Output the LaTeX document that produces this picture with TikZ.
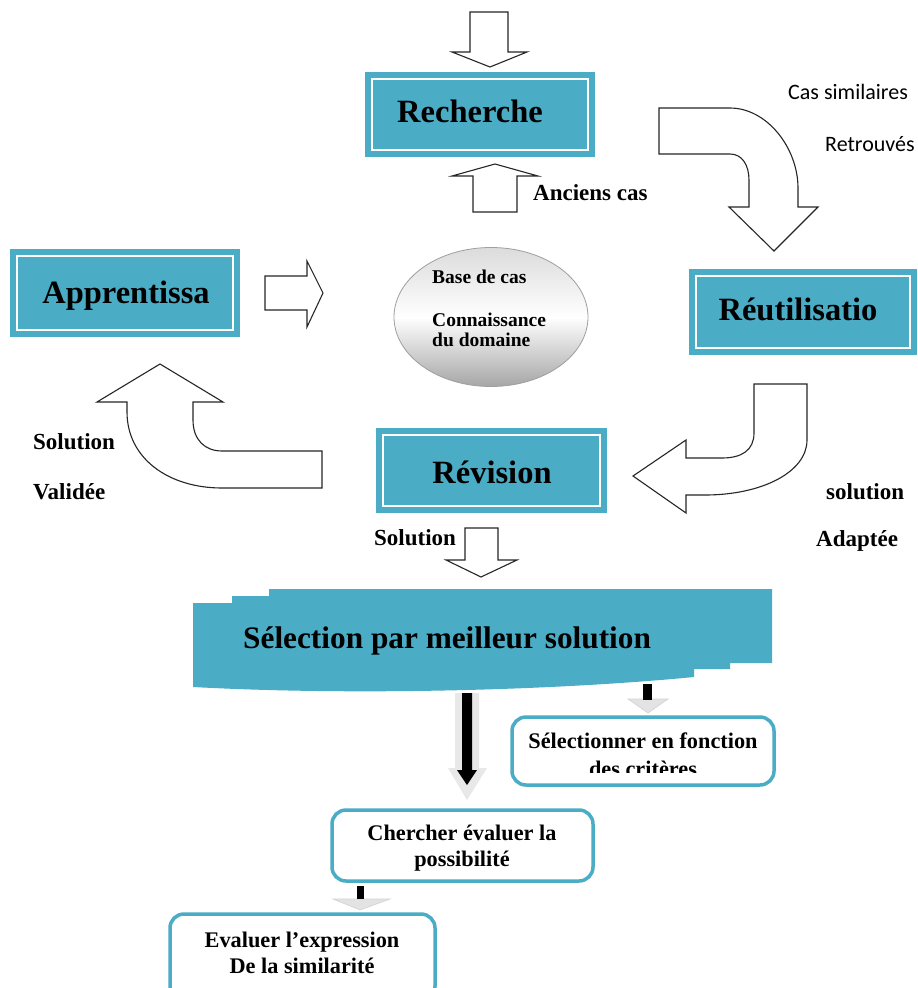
\documentclass[tikz,border=0pt]{standalone}
\usepackage{fontspec}
\setmainfont{Liberation Serif}
\newfontfamily\sansnote{Carlito}
\usetikzlibrary{shapes.geometric}
\definecolor{boxteal}{HTML}{4BACC6}
\tikzset{
  blockarrow/.style={draw=black!85, line width=1.1pt, fill=white, line join=miter},
  stagebox/.style={fill=boxteal, draw=none, inner sep=0pt, outer sep=0pt},
  stageframe/.style={draw=white, line width=2.7pt},
  stagelabel/.style={anchor=base, inner sep=0pt, font=\bfseries\fontsize{32.5}{38}\selectfont},
  flowlabel/.style={anchor=base west, inner sep=0pt, font=\bfseries\fontsize{23}{27}\selectfont},
  notelabel/.style={anchor=base west, inner sep=0pt, font=\sansnote\fontsize{22}{26}\selectfont},
  baselabel/.style={anchor=base west, inner sep=0pt, font=\bfseries\fontsize{19.5}{22}\selectfont},
  stepbox/.style={draw=boxteal, line width=3.5pt, rounded corners=14pt, fill=white, inner sep=0pt},
  steptext/.style={anchor=base, inner sep=0pt, font=\bfseries\fontsize{22.3}{26}\selectfont},
  glowhead/.style={fill=gray!22, draw=gray!35, line width=0.6pt},
}
\begin{document}
\begin{tikzpicture}[x=1pt, y=-1pt]
\clip (0,0) rectangle (918,988);
\fill[white] (0,0) rectangle (918,988);

% ---------- the four CBR stages ----------
\node[stagebox, minimum width=230pt, minimum height=85pt] (rech) at (480,114.5) {};
\draw[stageframe] ([shift={(7,7)}]rech.north west) rectangle ([shift={(-7,-7)}]rech.south east);
\node[stagelabel] (rechT) at (470,122) {Recherche};

\node[stagebox, minimum width=228pt, minimum height=86pt] (reut) at (803,312) {};
\draw[stageframe] ([shift={(7,7)}]reut.north west) rectangle ([shift={(-7,-7)}]reut.south east);
\node[stagelabel] (reutT) at (798,320) {Réutilisatio};

\node[stagebox, minimum width=230pt, minimum height=88pt] (appr) at (125,293) {};
\draw[stageframe] ([shift={(7,7)}]appr.north west) rectangle ([shift={(-7,-7)}]appr.south east);
\node[stagelabel] (apprT) at (126,303) {Apprentissa};

\node[stagebox, minimum width=231pt, minimum height=85pt] (revi) at (491.5,470.5) {};
\draw[stageframe] ([shift={(7,7)}]revi.north west) rectangle ([shift={(-7,-7)}]revi.south east);
\node[stagelabel] (reviT) at (492,483) {Révision};

% ---------- case base ----------
\node[ellipse, minimum width=194pt, minimum height=139pt, draw=gray!75, line width=0.8pt,
      top color=gray!28, bottom color=gray!70, middle color=white] (base) at (491,317) {};
\node[baselabel] (baseA) at (432,283) {Base de cas};
\node[baselabel] (baseB) at (432,326) {Connaissance};
\node[baselabel] (baseC) at (432,346) {du domaine};

% ---------- block arrows of the cycle ----------
% entry into the search stage
\draw[blockarrow] (470,12) -- (508,12) -- (508,52) -- (527,52) -- (490,67) -- (452,52) -- (470,52) -- cycle;
% old cases up to the search stage
\draw[blockarrow] (473,212) -- (517,212) -- (517,176) -- (538,176) -- (495,164) -- (452,176) -- (473,176) -- cycle;
% similar cases down to reuse
\draw[blockarrow] (659,108) -- (730,108) .. controls (767,108) and (798,148) .. (798,188)
  -- (798,207) -- (818,207) -- (774,251) -- (729,207) -- (749,207) -- (749,180)
  .. controls (749,165) and (742,154) .. (730,154) -- (659,154) -- cycle;
% adapted solution back to revision
\draw[blockarrow] (754,384) -- (807,384) -- (807,440) .. controls (807,472) and (762,495) .. (705,495)
  -- (686,495) -- (686,513) -- (633,476) -- (686,440) -- (686,458) -- (722,458)
  .. controls (742,458) and (754,450) .. (754,433) -- cycle;
% validated solution up to learning
\draw[blockarrow] (160,364) -- (223,402) -- (193,402) -- (193,420) .. controls (193,440) and (205,451) .. (222,451)
  -- (322,451) -- (322,488) -- (222,488) .. controls (168,488) and (127,458) .. (127,412)
  -- (127,402) -- (97,402) -- cycle;
% learning into the case base
\draw[blockarrow] (265,276) -- (307,276) -- (307,261) -- (323,293) -- (307,327) -- (307,310) -- (265,310) -- cycle;
% revised solution down to the selection step
\draw[blockarrow] (465,528) -- (498,528) -- (498,560) -- (517,560) -- (481,577) -- (446,560) -- (465,560) -- cycle;

% ---------- flow labels ----------
\node[flowlabel] (lAnc) at (533,200) {Anciens cas};
\node[notelabel] (lCas) at (788,99) {Cas similaires};
\node[notelabel] (lRet) at (825,151) {Retrouvés};
\node[flowlabel] (lSolV) at (33,449) {Solution};
\node[flowlabel] (lVal) at (33,499) {Validée};
\node[flowlabel] (lSolA) at (826,499) {solution};
\node[flowlabel] (lAda) at (816,546) {Adaptée};
\node[flowlabel] (lSol) at (374,545) {Solution};

% ---------- selection banner ----------
\fill[boxteal] (193,603) -- (232,603) -- (232,596) -- (269,596) -- (269,589) -- (772,589) -- (772,663)
  -- (730,663) -- (730,669) -- (694,669) -- (694,677) .. controls (560,690) and (360,696) .. (193,687) -- cycle;
\node[anchor=base west, inner sep=0pt, font=\bfseries\fontsize{31.3}{37}\selectfont] (sel) at (243,648) {Sélection par meilleur solution};

% ---------- selection steps ----------
\node[stepbox, minimum width=262pt, minimum height=68pt] (crit) at (643,751) {};
\node[stepbox, minimum width=261pt, minimum height=71pt] (cher) at (462.5,845.5) {};
\node[stepbox, minimum width=265pt, minimum height=86pt] (eval) at (302.5,957) {};

\node[steptext] (critA) at (643,748) {Sélectionner en fonction};
\begin{scope}
  \clip (510,715) rectangle (776,772);
  \node[steptext] (critB) at (643,776) {des critères};
\end{scope}
\node[steptext] (cherA) at (462,840) {Chercher évaluer la};
\node[steptext] (cherB) at (462,866) {possibilité};
\node[steptext] (evalA) at (302,947) {Evaluer l’expression};
\node[steptext] (evalB) at (302,973) {De la similarité};

% ---------- small arrows between the steps ----------
\fill[gray!18] (455,693) -- (479,693) -- (479,768) -- (487,768) -- (467,800) -- (448,768) -- (455,768) -- cycle;
\fill[black] (462,693) -- (472,693) -- (472,770) -- (477,770) -- (467,785) -- (457,770) -- (462,770) -- cycle;

\draw[glowhead] (628,699) -- (668,699) -- (648,713) -- cycle;
\fill[black] (643,684) rectangle (652,700);

\draw[glowhead] (333,899) -- (390,899) -- (360,910) -- cycle;
\fill[black] (357,886) rectangle (364,899);
\end{tikzpicture}
\end{document}
